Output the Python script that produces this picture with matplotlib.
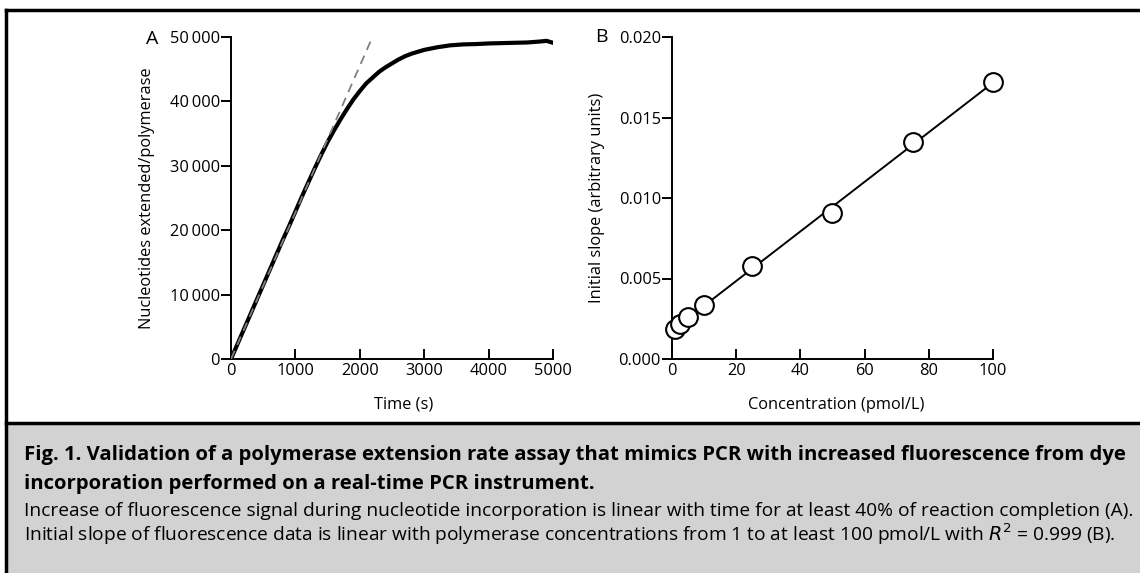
import numpy as np
import matplotlib.pyplot as plt
import matplotlib.ticker as mticker
from matplotlib.patches import Rectangle
from matplotlib.lines import Line2D

plt.rcParams.update({
    "font.family": ["Open Sans", "DejaVu Sans"],
    "font.size": 11.8,
    "axes.linewidth": 1.4,
})

# ── Panel A: extension time course ──
time_s = [0, 100, 200, 300, 400, 500, 600, 700, 800, 900, 1000, 1100, 1200,
          1300, 1400, 1500, 1600, 1700, 1800, 1900, 2000, 2100, 2200, 2300,
          2400, 2500, 2600, 2700, 2800, 2900, 3000, 3200, 3400, 3600, 3800,
          4000, 4200, 4400, 4600, 4800, 4900, 5000]
nucleotides = [0, 2300, 4600, 6900, 9200, 11500, 13800, 16100, 18400, 20600,
               22900, 25200, 27400, 29600, 31700, 33700, 35500, 37200, 38800,
               40300, 41600, 42800, 43700, 44600, 45300, 45900, 46500, 47000,
               47400, 47700, 48000, 48400, 48700, 48850, 48900, 49000, 49050,
               49100, 49150, 49300, 49400, 49100]
fit_time = [0, 2210]
fit_nucleotides = [0, 50300]

# ── Panel B: initial slope vs concentration ──
conc = [1, 2.5, 5, 10, 25, 50, 75, 100]
slope = [0.00189, 0.00216, 0.00258, 0.00334, 0.00576, 0.00907, 0.01348, 0.01719]

caption_bold = ["Fig. 1. Validation of a polymerase extension rate assay that mimics PCR with increased fluorescence from dye",
                "incorporation performed on a real-time PCR instrument."]
caption_body = ["Increase of fluorescence signal during nucleotide incorporation is linear with time for at least 40% of reaction completion (A).",
                "Initial slope of fluorescence data is linear with polymerase concentrations from 1 to at least 100 pmol/L with $R^2$ = 0.999 (B)."]

W, H = 1140, 573
fig = plt.figure(figsize=(W / 100, H / 100), dpi=100)


def fx(px):
    return px / W


def fy(py):
    return 1 - py / H


def style_axes(ax):
    for s in ["top", "right"]:
        ax.spines[s].set_visible(False)
    ax.tick_params(axis="y", direction="out", length=7, width=1.4, pad=1)
    ax.tick_params(axis="x", direction="in", length=7, width=1.4, pad=3)


thin = lambda v, p: f"{int(v):,}".replace(",", "\u2009") if v >= 10000 else f"{int(v)}"

# Panel A
axA = fig.add_axes([fx(231), fy(359), fx(553 - 231), (359 - 37) / H])
axA.plot(fit_time, fit_nucleotides, color="#808080", lw=1.3, dashes=(5, 3.5), zorder=3)
axA.plot(time_s, nucleotides, color="black", lw=3.0, solid_joinstyle="round", zorder=2)
axA.set_xlim(0, 5000)
axA.set_ylim(0, 50000)
axA.set_xticks(range(0, 5001, 1000))
axA.set_yticks(range(0, 50001, 10000))
axA.yaxis.set_major_formatter(mticker.FuncFormatter(thin))
style_axes(axA)
axA.set_xlabel("Time (s)")
axA.xaxis.set_label_coords(0.537, -0.118)
axA.set_ylabel("Nucleotides extended/polymerase")
axA.yaxis.set_label_coords(-0.236, 0.5)
fig.text(fx(152), fy(39), "A", fontsize=14, ha="center", va="center")

# Panel B
axB = fig.add_axes([fx(672), fy(359), fx(993 - 672), (359 - 37) / H])
k, b = np.polyfit(conc, slope, 1)
xs = np.array([min(conc), max(conc)])
axB.plot(xs, k * xs + b, color="black", lw=1.4, zorder=2)
axB.plot(conc, slope, "o", ms=13.5, mfc="white", mec="black", mew=1.5, zorder=3, clip_on=False)
axB.set_xlim(0, 100)
axB.set_ylim(0, 0.020)
axB.set_xticks(range(0, 101, 20))
axB.set_yticks([0, 0.005, 0.010, 0.015, 0.020])
axB.yaxis.set_major_formatter(mticker.FormatStrFormatter("%.3f"))
style_axes(axB)
axB.set_xlabel("Concentration (pmol/L)")
axB.xaxis.set_label_coords(0.512, -0.118)
axB.set_ylabel("Initial slope (arbitrary units)")
axB.yaxis.set_label_coords(-0.209, 0.5)
fig.text(fx(601), fy(37), "B", fontsize=14, ha="center", va="center")

# Frame and caption box
fig.patches.append(Rectangle((fx(6), 0), 1 - fx(6), fy(423), transform=fig.transFigure,
                             facecolor="#d2d2d2", edgecolor="none", zorder=0))
fig.lines.append(Line2D([fx(6), 1], [fy(10), fy(10)], transform=fig.transFigure, color="black", lw=2.5))
fig.lines.append(Line2D([fx(6), fx(6)], [0, fy(10)], transform=fig.transFigure, color="black", lw=2.5))
fig.lines.append(Line2D([fx(6), 1], [fy(423), fy(423)], transform=fig.transFigure, color="black", lw=2.5))

cap_font = ["Open Sans", "DejaVu Sans"]
fig.text(fx(24), fy(455), caption_bold[0], fontsize=14.6, fontweight="bold", family=cap_font, va="center")
fig.text(fx(24), fy(484), caption_bold[1], fontsize=14.6, fontweight="bold", family=cap_font, va="center")
fig.text(fx(24), fy(511), caption_body[0], fontsize=13.8, family=cap_font, va="center")
fig.text(fx(24), fy(534), caption_body[1], fontsize=13.8, family=cap_font, va="center")

fig.savefig("out.png", dpi=100)
